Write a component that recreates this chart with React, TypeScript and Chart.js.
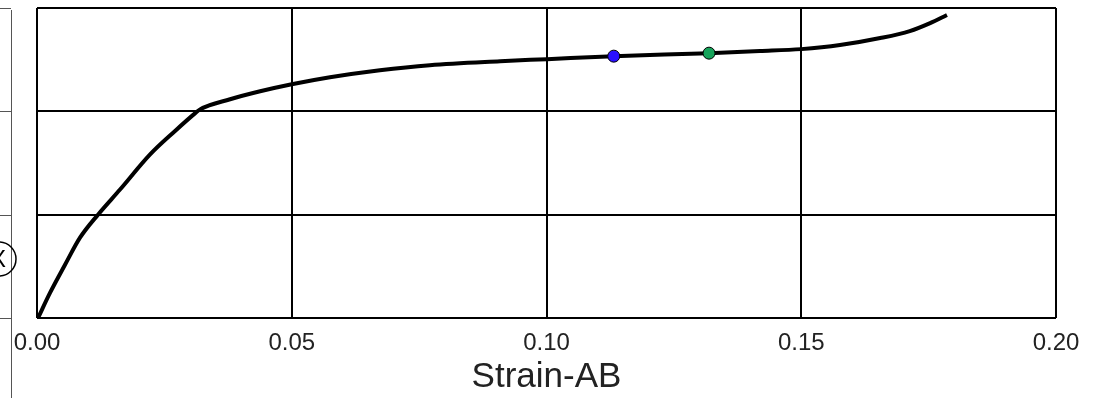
import React, { useEffect, useRef } from "react";
import { Chart, registerables } from "chart.js";

Chart.register(...registerables);

const strainX = [0.0002, 0.00255, 0.0055, 0.00844, 0.01197, 0.0163, 0.0222, 0.0271, 0.031, 0.032, 0.0379, 0.0438, 0.05, 0.0575, 0.0673, 0.0771, 0.0909, 0.1001, 0.1132, 0.1319, 0.1419, 0.15, 0.1576, 0.1655, 0.1713, 0.1753, 0.1786];
const stressY = [0, 0.243, 0.515, 0.777, 1.0, 1.243, 1.583, 1.81, 1.98, 2.019, 2.117, 2.194, 2.262, 2.33, 2.398, 2.447, 2.485, 2.505, 2.534, 2.563, 2.583, 2.602, 2.641, 2.709, 2.777, 2.854, 2.932];
const markerX = [0.1132, 0.1319];
const markerY = [2.534, 2.563];
const markerColors = ["#2a10ff", "#16a35a"];
const xTicks = [0, 0.05, 0.1, 0.15, 0.2];
const xTitle = "Strain-AB";

const leftDecor = {
  id: "leftDecor",
  afterDraw(chart: any) {
    const ctx = chart.ctx;
    const y = chart.scales.y;
    ctx.save();
    ctx.strokeStyle = "#555";
    ctx.lineWidth = 1;
    ctx.beginPath();
    ctx.moveTo(11.5, 10);
    ctx.lineTo(11.5, 398);
    for (const v of [0, 1, 2, 3]) {
      const py = Math.round(y.getPixelForValue(v)) + 0.5;
      ctx.moveTo(0, py);
      ctx.lineTo(11, py);
    }
    ctx.stroke();
    ctx.strokeStyle = "#000";
    ctx.lineWidth = 1.5;
    ctx.beginPath();
    ctx.arc(-1, 259, 17, 0, Math.PI * 2);
    ctx.stroke();
    ctx.fillStyle = "#000";
    ctx.font = "24px 'Liberation Sans', Arial, sans-serif";
    ctx.textAlign = "center";
    ctx.textBaseline = "middle";
    ctx.fillText("X", -2, 260);
    ctx.restore();
  },
};

export default function App() {
  const ref = useRef<HTMLCanvasElement>(null);
  useEffect(() => {
    if (!ref.current) return;
    const curve = strainX.map((x, i) => ({ x, y: stressY[i] }));
    const markers = markerX.map((x, i) => ({ x, y: markerY[i] }));
    const chart = new Chart(ref.current, {
      type: "scatter",
      data: {
        datasets: [
          {
            data: markers,
            showLine: false,
            pointRadius: 6,
            pointBackgroundColor: markerColors,
            pointBorderColor: "#000",
            pointBorderWidth: 1,
          },
          {
            data: curve,
            showLine: true,
            borderColor: "#000",
            borderWidth: 4,
            pointRadius: 0,
            cubicInterpolationMode: "monotone",
            fill: false,
          },
        ],
      },
      options: {
        animation: false,
        responsive: false,
        maintainAspectRatio: false,
        layout: { padding: { left: 0, right: 48, top: 8, bottom: 0 } },
        plugins: { legend: { display: false }, tooltip: { enabled: false } },
        scales: {
          x: {
            type: "linear",
            min: 0,
            max: 0.2,
            afterBuildTicks: (s: any) => {
              s.ticks = xTicks.map((v) => ({ value: v }));
            },
            afterFit: (s: any) => {
              s.height = 80;
            },
            border: { display: false },
            grid: { color: "#000", lineWidth: 2, drawTicks: false },
            ticks: {
              color: "#222",
              padding: 11,
              maxRotation: 0,
              font: { family: "'Liberation Sans', Arial, sans-serif", size: 24 },
              callback: (v: any) => Number(v).toFixed(2),
            },
            title: {
              display: true,
              text: xTitle,
              color: "#222",
              padding: { top: 0, bottom: 0 },
              font: { family: "'Liberation Sans', Arial, sans-serif", size: 35 },
            },
          },
          y: {
            min: 0,
            max: 3,
            afterFit: (s: any) => {
              s.width = 37;
            },
            border: { display: false },
            grid: { color: "#000", lineWidth: 2, drawTicks: false },
            ticks: { display: false, stepSize: 1 },
          },
        },
      },
      plugins: [leftDecor],
    });
    return () => chart.destroy();
  }, []);
  return (
    <div style={{ position: "absolute", left: 0, top: 0, width: 1104, height: 398, background: "#fff" }}>
      <canvas ref={ref} width={1104} height={398} style={{ width: 1104, height: 398 }} />
    </div>
  );
}
